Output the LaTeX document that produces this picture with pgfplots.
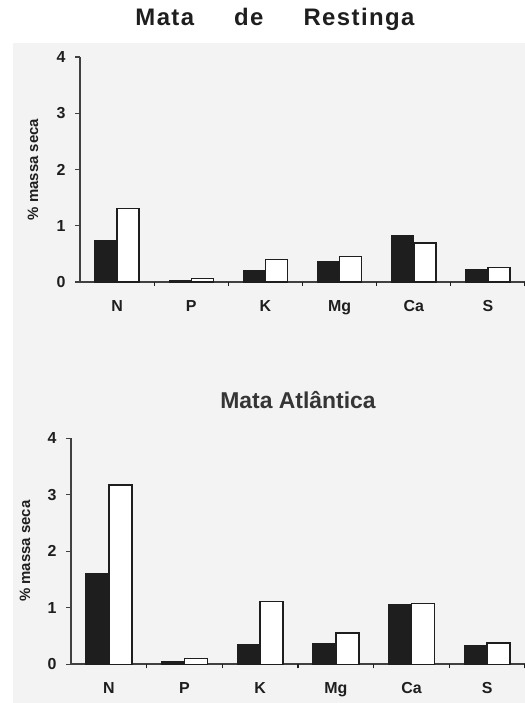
\documentclass[border=0pt]{standalone}
\usepackage{fontspec}
\setmainfont{Liberation Sans}
\usepackage{pgfplots}
\pgfplotsset{compat=1.18}
\definecolor{bg}{HTML}{F3F3F3}
\definecolor{ink}{HTML}{1E1E1E}
\pgfplotsset{
  panel/.style={
    scale only axis,
    xmin=-0.5, xmax=5.5, ymin=0, ymax=4,
    axis lines=left,
    axis line style={-, line width=1.7bp, draw=ink!85},
    ybar=0pt,
    ytick={0,1,2,3,4},
    xtick={0,...,5},
    xticklabels={N,P,K,Mg,Ca,S},
    tick align=outside,
    major tick length=5bp,
    ytick style={draw=ink!85, line width=1.3bp},
    xtick style={draw=none},
    extra x ticks={0.5,1.5,2.5,3.5,4.5,5.5},
    extra x tick labels={},
    extra x tick style={xtick style={draw=ink, line width=1.3bp}, major tick length=4bp},
    /pgf/number format/assume math mode=true,
    ticklabel style={font=\bfseries\fontsize{16}{18}\selectfont, text=ink},
    xticklabel style={yshift=-10bp},
    yticklabel style={xshift=-6bp},
    ylabel={\% massa seca},
    clip=false,
  },
  blk/.style={fill=ink, draw=ink, line width=1.2bp},
  wht/.style={fill=white, draw=ink, line width=1.5bp},
}
\begin{document}
\begin{tikzpicture}
\path[use as bounding box] (0bp,0bp) rectangle (525bp,703bp);
\fill[bg] (13bp,0bp) rectangle (525bp,660bp);
\node[font=\bfseries\fontsize{24}{28}\selectfont, text=ink] at (275bp,684bp) {\addfontfeatures{LetterSpace=6}Mata\hspace{40bp}de\hspace{40bp}Restinga};
\begin{axis}[panel, at={(80bp,421bp)}, anchor=south west, width=445bp, height=225bp, bar width=22bp,
  every axis y label/.style={at={([xshift=-47bp]axis description cs:0,0.5)}, rotate=90, anchor=center, font=\bfseries\fontsize{15}{17}\selectfont, text=ink}]
\addplot[blk] coordinates {(0,0.73) (1,0.03) (2,0.21) (3,0.37) (4,0.83) (5,0.22)};
\addplot[wht] coordinates {(0,1.31) (1,0.06) (2,0.40) (3,0.45) (4,0.69) (5,0.26)};
\end{axis}
\node[font=\bfseries\fontsize{23}{27}\selectfont, text=ink!90] at (298bp,303bp) {Mata Atlântica};
\begin{axis}[panel, at={(71bp,38.7bp)}, anchor=south west, width=454bp, height=226bp, bar width=23bp,
  every axis y label/.style={at={([xshift=-46bp]axis description cs:0,0.5)}, rotate=90, anchor=center, font=\bfseries\fontsize{15}{17}\selectfont, text=ink}]
\addplot[blk] coordinates {(0,1.61) (1,0.05) (2,0.34) (3,0.37) (4,1.05) (5,0.33)};
\addplot[wht] coordinates {(0,3.17) (1,0.10) (2,1.11) (3,0.55) (4,1.08) (5,0.38)};
\end{axis}
\end{tikzpicture}
\end{document}
